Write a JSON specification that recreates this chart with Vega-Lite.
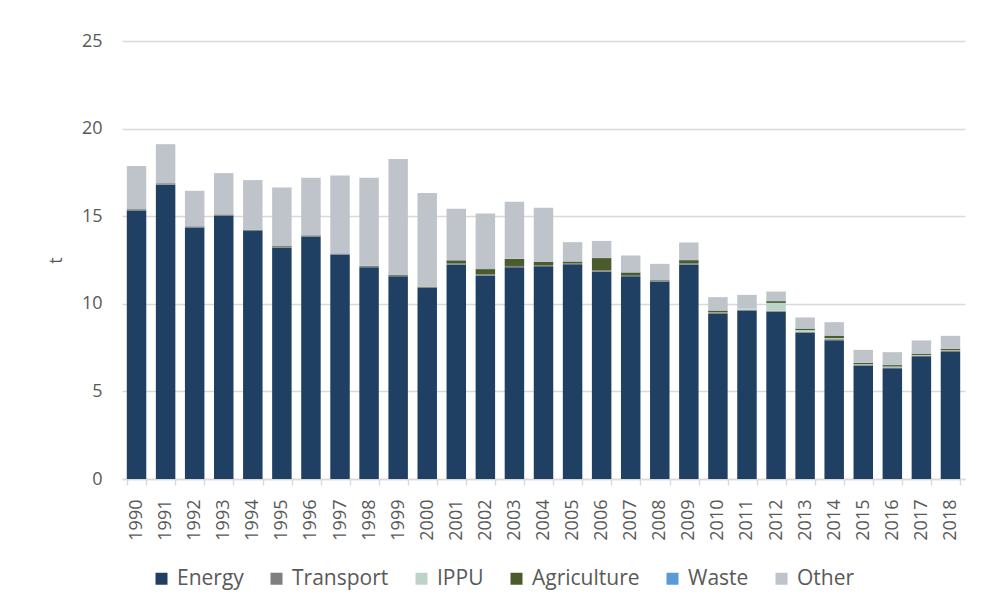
{
  "$schema": "https://vega.github.io/schema/vega-lite/v6.json",
  "width": 843,
  "height": 438,
  "autosize": "none",
  "padding": {"left": 122, "top": 41, "right": 16, "bottom": 129},
  "background": "white",
  "config": {"view": {"stroke": null}, "font": "Open Sans"},
  "data": {
    "values": [
      {"year": "1990", "Energy": 15.3, "Transport": 0.08, "IPPU": 0, "Agriculture": 0.02, "Waste": 0.01, "Other": 2.45},
      {"year": "1991", "Energy": 16.8, "Transport": 0.08, "IPPU": 0, "Agriculture": 0.0, "Waste": 0.01, "Other": 2.22},
      {"year": "1992", "Energy": 14.35, "Transport": 0.07, "IPPU": 0, "Agriculture": 0.0, "Waste": 0.01, "Other": 2.02},
      {"year": "1993", "Energy": 15.02, "Transport": 0.08, "IPPU": 0, "Agriculture": 0.0, "Waste": 0.01, "Other": 2.35},
      {"year": "1994", "Energy": 14.15, "Transport": 0.08, "IPPU": 0, "Agriculture": 0.0, "Waste": 0.01, "Other": 2.82},
      {"year": "1995", "Energy": 13.2, "Transport": 0.05, "IPPU": 0, "Agriculture": 0.04, "Waste": 0.01, "Other": 3.34},
      {"year": "1996", "Energy": 13.82, "Transport": 0.04, "IPPU": 0, "Agriculture": 0.04, "Waste": 0.01, "Other": 3.28},
      {"year": "1997", "Energy": 12.82, "Transport": 0.05, "IPPU": 0, "Agriculture": 0.0, "Waste": 0.01, "Other": 4.45},
      {"year": "1998", "Energy": 12.08, "Transport": 0.08, "IPPU": 0, "Agriculture": 0.0, "Waste": 0.01, "Other": 5.02},
      {"year": "1999", "Energy": 11.57, "Transport": 0.03, "IPPU": 0, "Agriculture": 0.04, "Waste": 0.01, "Other": 6.62},
      {"year": "2000", "Energy": 10.9, "Transport": 0.03, "IPPU": 0, "Agriculture": 0.04, "Waste": 0.01, "Other": 5.34},
      {"year": "2001", "Energy": 12.25, "Transport": 0.05, "IPPU": 0, "Agriculture": 0.18, "Waste": 0.01, "Other": 2.93},
      {"year": "2002", "Energy": 11.62, "Transport": 0.06, "IPPU": 0, "Agriculture": 0.3, "Waste": 0.01, "Other": 3.16},
      {"year": "2003", "Energy": 12.08, "Transport": 0.08, "IPPU": 0, "Agriculture": 0.4, "Waste": 0.01, "Other": 3.25},
      {"year": "2004", "Energy": 12.15, "Transport": 0.05, "IPPU": 0, "Agriculture": 0.2, "Waste": 0.01, "Other": 3.07},
      {"year": "2005", "Energy": 12.26, "Transport": 0.05, "IPPU": 0, "Agriculture": 0.1, "Waste": 0.01, "Other": 1.1},
      {"year": "2006", "Energy": 11.83, "Transport": 0.08, "IPPU": 0, "Agriculture": 0.7, "Waste": 0.01, "Other": 0.97},
      {"year": "2007", "Energy": 11.57, "Transport": 0.07, "IPPU": 0, "Agriculture": 0.15, "Waste": 0.01, "Other": 0.96},
      {"year": "2008", "Energy": 11.27, "Transport": 0.05, "IPPU": 0, "Agriculture": 0.03, "Waste": 0.01, "Other": 0.92},
      {"year": "2009", "Energy": 12.25, "Transport": 0.06, "IPPU": 0, "Agriculture": 0.18, "Waste": 0.01, "Other": 1.0},
      {"year": "2010", "Energy": 9.42, "Transport": 0.07, "IPPU": 0.02, "Agriculture": 0.1, "Waste": 0.01, "Other": 0.76},
      {"year": "2011", "Energy": 9.62, "Transport": 0.04, "IPPU": 0.05, "Agriculture": 0.0, "Waste": 0.01, "Other": 0.79},
      {"year": "2012", "Energy": 9.55, "Transport": 0.05, "IPPU": 0.45, "Agriculture": 0.1, "Waste": 0.01, "Other": 0.54},
      {"year": "2013", "Energy": 8.35, "Transport": 0.05, "IPPU": 0.1, "Agriculture": 0.08, "Waste": 0.01, "Other": 0.63},
      {"year": "2014", "Energy": 7.92, "Transport": 0.06, "IPPU": 0.06, "Agriculture": 0.14, "Waste": 0.01, "Other": 0.76},
      {"year": "2015", "Energy": 6.45, "Transport": 0.05, "IPPU": 0.05, "Agriculture": 0.07, "Waste": 0.01, "Other": 0.74},
      {"year": "2016", "Energy": 6.32, "Transport": 0.05, "IPPU": 0.05, "Agriculture": 0.08, "Waste": 0.01, "Other": 0.73},
      {"year": "2017", "Energy": 7.0, "Transport": 0.05, "IPPU": 0.03, "Agriculture": 0.07, "Waste": 0.01, "Other": 0.75},
      {"year": "2018", "Energy": 7.25, "Transport": 0.07, "IPPU": 0.03, "Agriculture": 0.08, "Waste": 0.01, "Other": 0.73}
    ]
  },
  "transform": [
    {"fold": ["Energy", "Transport", "IPPU", "Agriculture", "Waste", "Other"], "as": ["sector", "value"]},
    {"window": [{"op": "row_number", "as": "rank"}], "groupby": ["year"]}
  ],
  "mark": {"type": "bar"},
  "encoding": {
    "x": {
      "field": "year",
      "type": "ordinal",
      "scale": {"paddingInner": 0.33, "paddingOuter": 0.165},
      "axis": {
        "title": null,
        "labelAngle": -90,
        "labelFontSize": 18,
        "labelColor": "#595959",
        "domainColor": "#d9d9d9",
        "domainWidth": 1.5,
        "tickColor": "#d9d9d9",
        "tickWidth": 1.5,
        "tickSize": 6,
        "tickBand": "extent",
        "labelPadding": 14
      }
    },
    "y": {
      "field": "value",
      "type": "quantitative",
      "stack": "zero",
      "scale": {"domain": [0, 25]},
      "axis": {
        "values": [0, 5, 10, 15, 20, 25],
        "title": "t",
        "titleFontSize": 18,
        "titleFontWeight": "normal",
        "titleColor": "#595959",
        "titlePadding": 16,
        "grid": true,
        "gridColor": "#d9d9d9",
        "gridWidth": 1.5,
        "domain": false,
        "ticks": false,
        "labelPadding": 20,
        "labelFontSize": 18,
        "labelColor": "#595959"
      }
    },
    "order": {"field": "rank", "type": "quantitative", "sort": "ascending"},
    "color": {
      "field": "sector",
      "type": "nominal",
      "sort": ["Energy", "Transport", "IPPU", "Agriculture", "Waste", "Other"],
      "scale": {
        "domain": ["Energy", "Transport", "IPPU", "Agriculture", "Waste", "Other"],
        "range": ["#1f4063", "#7f7f7f", "#bcd4c8", "#4a5c2c", "#5b9bd5", "#bfc4cb"]
      },
      "legend": {
        "title": null,
        "orient": "none",
        "direction": "horizontal",
        "legendX": 29,
        "legendY": 527,
        "symbolType": "square",
        "symbolSize": 144,
        "symbolStrokeWidth": 0,
        "labelFontSize": 21,
        "labelColor": "#595959",
        "labelOffset": 5,
        "columnPadding": 22
      }
    }
  }
}
